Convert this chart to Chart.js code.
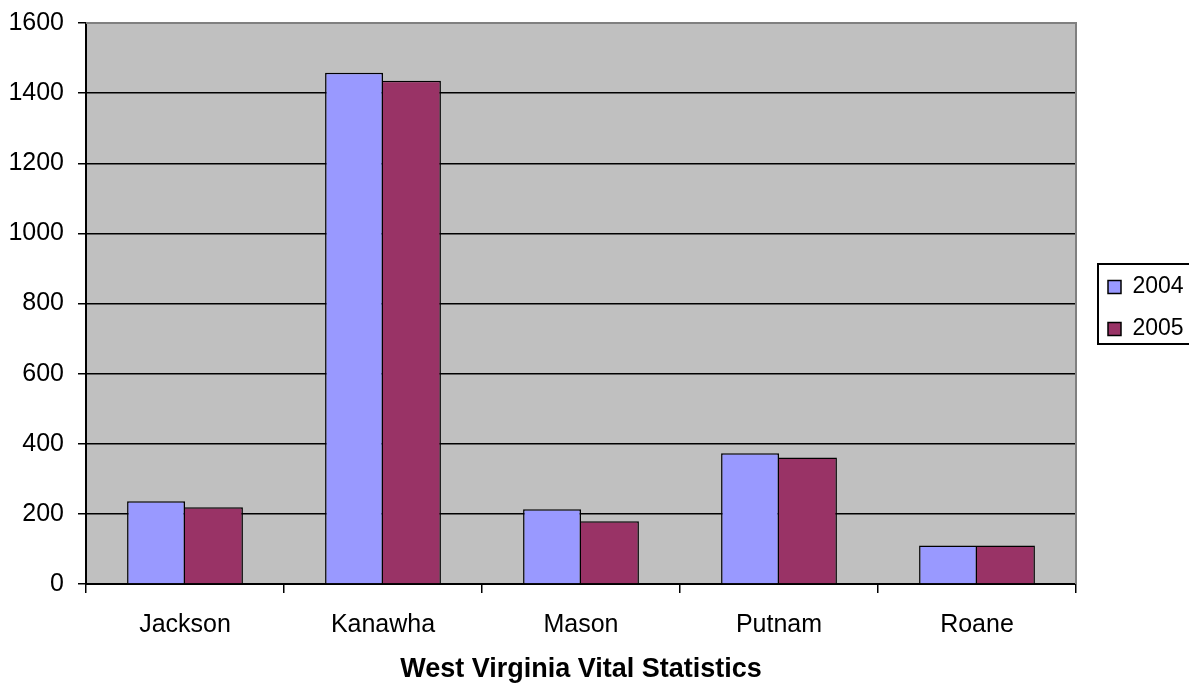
<!DOCTYPE html>
<html>
<head>
<meta charset="utf-8">
<script src="https://cdn.jsdelivr.net/npm/chart.js@4/dist/chart.umd.min.js"></script>
<style>
  html, body { margin: 0; padding: 0; background: #ffffff; }
  #wrap { width: 1189px; height: 684px; position: relative; }
</style>
</head>
<body>
<div id="wrap"><canvas id="c" width="1189" height="684"></canvas></div>
<script>
const categories = ["Jackson", "Kanawha", "Mason", "Putnam", "Roane"];
const series2004 = [236, 1458, 213, 373, 110];
const series2005 = [219, 1435, 179, 361, 110];
const seriesLabels = ["2004", "2005"];
const yTicks = [0, 200, 400, 600, 800, 1000, 1200, 1400, 1600];
const axisTitle = "West Virginia Vital Statistics";

const FONT = "'Liberation Sans', Arial, sans-serif";

const plotBg = {
  id: 'plotBg',
  beforeDraw(chart) {
    const {ctx, chartArea: a} = chart;
    ctx.save();
    ctx.fillStyle = '#C0C0C0';
    ctx.fillRect(a.left, a.top, a.right - a.left, a.bottom - a.top);
    ctx.restore();
  },
  afterDatasetsDraw(chart) {
    const {ctx, chartArea: a} = chart;
    ctx.save();
    ctx.strokeStyle = '#808080';
    ctx.lineWidth = 2;
    ctx.beginPath();
    ctx.moveTo(a.left, a.top);
    ctx.lineTo(a.right, a.top);
    ctx.lineTo(a.right, a.bottom);
    ctx.stroke();
    ctx.restore();
  }
};

const legendPlace = {
  id: 'legendPlace',
  afterLayout(chart) {
    const lg = chart.legend;
    const pad = lg.options.labels.padding;
    const fs = lg.options.labels.font.size;
    const w = lg.width, h = lg.height;
    lg.left = 1108 - pad;
    lg.top = 287 - fs / 2 - pad;
    lg.right = lg.left + w;
    lg.bottom = lg.top + h;
  },
  afterDraw(chart) {
    const {ctx} = chart;
    ctx.save();
    ctx.strokeStyle = '#000000';
    ctx.lineWidth = 2;
    ctx.strokeRect(1098, 264, 120, 80);
    ctx.restore();
  }
};

new Chart(document.getElementById('c'), {
  type: 'bar',
  data: {
    labels: categories,
    datasets: [
      {
        label: seriesLabels[0],
        data: series2004,
        backgroundColor: '#9999FF',
        borderColor: '#000000',
        borderWidth: {top: 1.5, left: 1.5, right: 1.5, bottom: 0},
        borderSkipped: false
      },
      {
        label: seriesLabels[1],
        data: series2005,
        backgroundColor: '#993366',
        borderColor: '#000000',
        borderWidth: {top: 1.5, left: 0, right: 1.5, bottom: 0},
        borderSkipped: false
      }
    ]
  },
  options: {
    responsive: false,
    animation: false,
    devicePixelRatio: 1,
    layout: { padding: { top: 23, right: 113, bottom: 0, left: 0 } },
    datasets: { bar: { categoryPercentage: 0.585, barPercentage: 1.0 } },
    plugins: {
      title: { display: false },
      tooltip: { enabled: false },
      legend: {
        display: true,
        position: 'chartArea',
        align: 'start',
        labels: {
          boxWidth: 13,
          boxHeight: 13,
          padding: 19,
          color: '#000000',
          font: { family: FONT, size: 23 },
          generateLabels(chart) {
            return chart.data.datasets.map((ds, i) => ({
              text: ds.label,
              fillStyle: ds.backgroundColor,
              strokeStyle: '#000000',
              lineWidth: 1.5,
              hidden: false,
              datasetIndex: i,
              fontColor: '#000000'
            }));
          }
        }
      }
    },
    scales: {
      x: {
        offset: true,
        grid: {
          offset: true,
          display: true,
          drawOnChartArea: false,
          drawTicks: true,
          tickLength: 9,
          color: '#000000',
          tickColor: '#000000',
          lineWidth: 1.5
        },
        border: { display: true, color: '#000000', width: 2 },
        ticks: {
          color: '#000000',
          font: { family: FONT, size: 25 },
          padding: 17,
          maxRotation: 0,
          autoSkip: false
        },
        title: {
          display: true,
          text: axisTitle,
          color: '#000000',
          font: { family: FONT, size: 27, weight: 'bold' },
          padding: { top: 0, bottom: -2 }
        },
        afterFit(scale) { scale.height = 100; }
      },
      y: {
        min: 0,
        max: 1600,
        afterBuildTicks(scale) { scale.ticks = yTicks.map(v => ({value: v})); },
        grid: {
          display: true,
          drawOnChartArea: true,
          drawTicks: true,
          tickLength: 8,
          color: (c) => (c.tick && c.tick.value === 1600) ? 'rgba(0,0,0,0)' : '#000000',
          tickColor: '#000000',
          lineWidth: 1.5
        },
        border: { display: true, color: '#000000', width: 2 },
        ticks: {
          color: '#000000',
          font: { family: FONT, size: 25 },
          padding: 14,
          callback: (v) => String(v)
        },
        afterFit(scale) {
          scale.width = 86;
          scale.paddingTop = 0;
          scale.paddingBottom = 0;
        }
      }
    }
  },
  plugins: [plotBg, legendPlace]
});
</script>
</body>
</html>
